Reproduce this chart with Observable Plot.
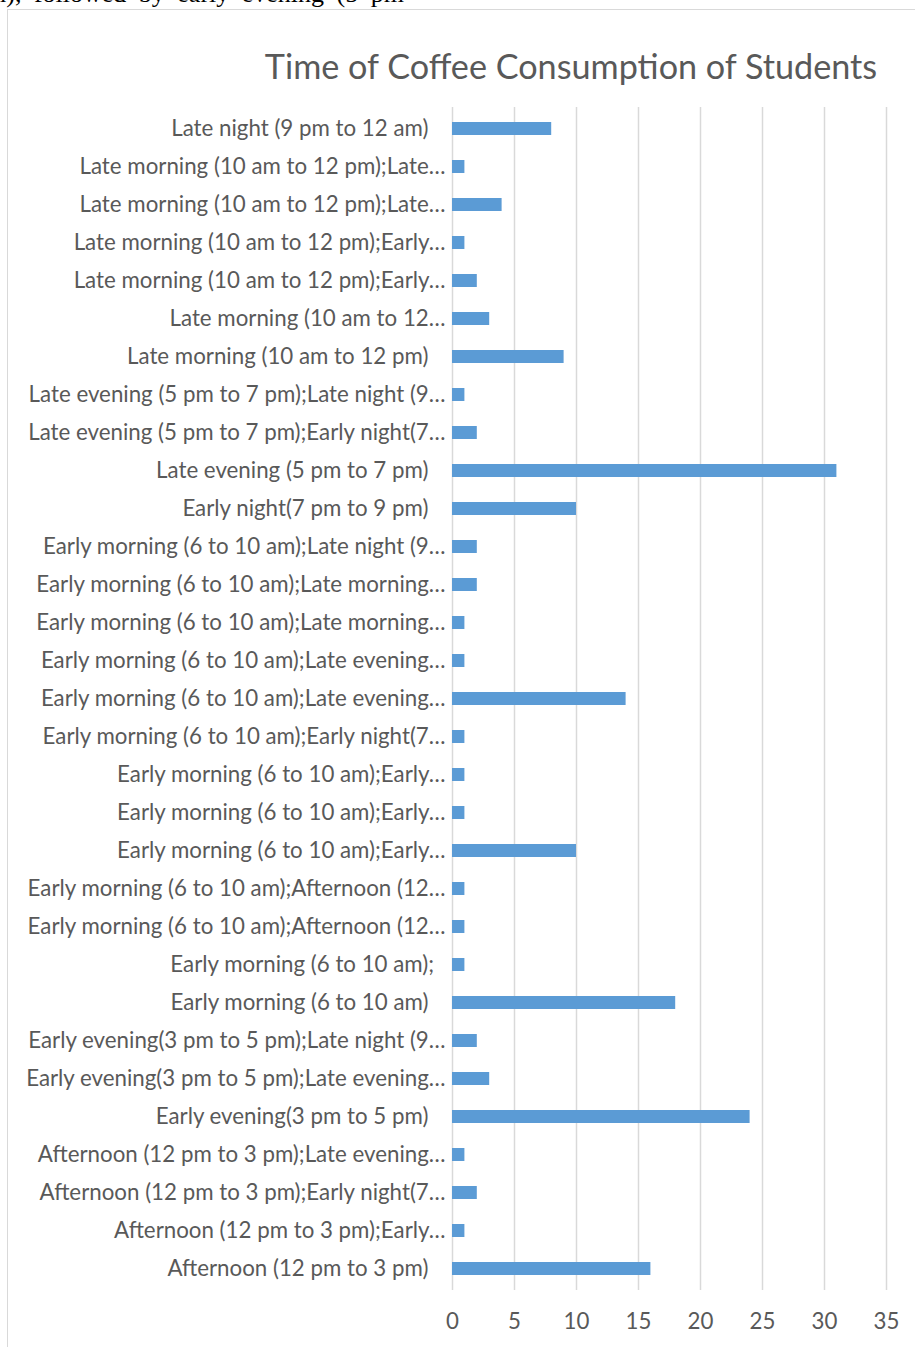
<!DOCTYPE html>
<html><head><meta charset="utf-8">
<script src="https://cdn.jsdelivr.net/npm/d3@7"></script>
<script src="https://cdn.jsdelivr.net/npm/@observablehq/plot@0.6"></script>
<style>
body{margin:0;background:#fff;}
#page{position:relative;width:915px;height:1347px;overflow:hidden;background:#fff;}
#doc{position:absolute;left:-14px;top:-19px;font-family:"Liberation Serif";font-size:26px;line-height:26px;word-spacing:6px;white-space:nowrap;color:#000;}
#frame{position:absolute;left:7px;top:9px;width:1000px;height:1400px;border-left:1.5px solid #d9d9d9;border-top:1.5px solid #d9d9d9;}
#title{position:absolute;left:71px;width:1000px;top:46px;text-align:center;font-family:Lato;font-size:34.2px;line-height:40px;color:#595959;white-space:nowrap;}
#chart{position:absolute;left:0;top:0;}
</style></head>
<body><div id="page">
<div id="doc">m), followed by early evening (5 pm</div>
<div id="frame"></div>
<div id="title">Time of Coffee Consumption of Students</div>
<div id="chart"></div>
</div>
<script>
const sp = "\u00a0\u00a0\u00a0";
const categories = [
  "Late night (9 pm to 12 am)" + sp,
  "Late morning (10 am to 12 pm);Late…",
  "Late morning (10 am to 12 pm);Late…",
  "Late morning (10 am to 12 pm);Early…",
  "Late morning (10 am to 12 pm);Early…",
  "Late morning (10 am to 12…",
  "Late morning (10 am to 12 pm)" + sp,
  "Late evening (5 pm to 7 pm);Late night (9…",
  "Late evening (5 pm to 7 pm);Early night(7…",
  "Late evening (5 pm to 7 pm)" + sp,
  "Early night(7 pm to 9 pm)" + sp,
  "Early morning (6 to 10 am);Late night (9…",
  "Early morning (6 to 10 am);Late morning…",
  "Early morning (6 to 10 am);Late morning…",
  "Early morning (6 to 10 am);Late evening…",
  "Early morning (6 to 10 am);Late evening…",
  "Early morning (6 to 10 am);Early night(7…",
  "Early morning (6 to 10 am);Early…",
  "Early morning (6 to 10 am);Early…",
  "Early morning (6 to 10 am);Early…",
  "Early morning (6 to 10 am);Afternoon (12…",
  "Early morning (6 to 10 am);Afternoon (12…",
  "Early morning (6 to 10 am);\u00a0\u00a0",
  "Early morning (6 to 10 am)" + sp,
  "Early evening(3 pm to 5 pm);Late night (9…",
  "Early evening(3 pm to 5 pm);Late evening…",
  "Early evening(3 pm to 5 pm)" + sp,
  "Afternoon (12 pm to 3 pm);Late evening…",
  "Afternoon (12 pm to 3 pm);Early night(7…",
  "Afternoon (12 pm to 3 pm);Early…",
  "Afternoon (12 pm to 3 pm)" + sp
];
const counts = [8, 1, 4, 1, 2, 3, 9, 1, 2, 31, 10, 2, 2, 1, 1, 14, 1, 1, 1, 10, 1, 1, 1, 18, 2, 3, 24, 1, 2, 1, 16];
const xTicks = [0, 5, 10, 15, 20, 25, 30, 35];

const data = categories.map((c, i) => ({i, label: c, value: counts[i]}));

const chart = Plot.plot({
  width: 915,
  height: 1347,
  marginLeft: 452,
  marginRight: 29,
  marginTop: 107,
  marginBottom: 57,
  style: {fontFamily: "Lato", fontSize: "22.3px", color: "#595959", background: "transparent"},
  x: {domain: [0, 35]},
  y: {domain: d3.range(categories.length), paddingInner: 0.66, paddingOuter: 0.33},
  marks: [
    Plot.gridX(xTicks, {stroke: "#d9d9d9", strokeOpacity: 1, strokeWidth: 1.5}),
    Plot.barX(data, {y: "i", x: "value", fill: "#5b9bd5"}),
    Plot.axisX({ticks: xTicks, tickSize: 0, tickPadding: 23, label: null}),
    Plot.axisY({tickFormat: i => categories[i], tickSize: 0, tickPadding: 7, label: null})
  ]
});
document.getElementById("chart").appendChild(chart);
</script>
</body></html>
